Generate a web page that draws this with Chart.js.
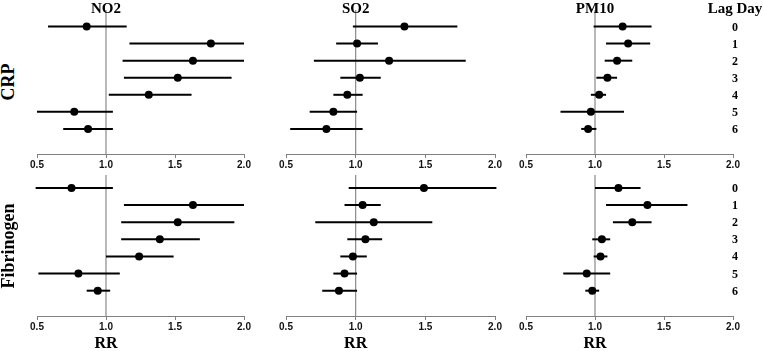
<!DOCTYPE html>
<html>
<head>
<meta charset="utf-8">
<script src="https://cdn.jsdelivr.net/npm/chart.js@4/dist/chart.umd.min.js"></script>
<style>
body{margin:0;background:#fff;width:763px;height:351px;position:relative;overflow:hidden}
.box{position:absolute}
.t{position:absolute;font-family:"Liberation Serif","Times New Roman",serif;font-weight:bold;color:#000;white-space:nowrap;transform:translate(-50%,-50%);line-height:1}
.rot{transform:translate(-50%,-50%) rotate(-90deg)}
</style>
</head>
<body>
<script>
var lags = [0, 1, 2, 3, 4, 5, 6];
var pollutants = ["NO2", "SO2", "PM10"];
var outcomes = ["CRP", "Fibrinogen"];
var xTicks = [0.5, 1.0, 1.5, 2.0];

// CRP
var no2CrpRR = [0.86, 1.76, 1.63, 1.52, 1.31, 0.77, 0.87];
var no2CrpLo = [0.58, 1.17, 1.12, 1.13, 1.02, 0.50, 0.69];
var no2CrpHi = [1.15, 2.00, 2.00, 1.91, 1.62, 1.05, 1.05];

var so2CrpRR = [1.35, 1.01, 1.24, 1.03, 0.94, 0.84, 0.79];
var so2CrpLo = [0.98, 0.86, 0.70, 0.89, 0.84, 0.67, 0.53];
var so2CrpHi = [1.73, 1.16, 1.79, 1.18, 1.05, 1.01, 1.05];

var pm10CrpRR = [1.20, 1.24, 1.16, 1.09, 1.03, 0.97, 0.95];
var pm10CrpLo = [0.99, 1.08, 1.07, 1.01, 0.97, 0.75, 0.90];
var pm10CrpHi = [1.41, 1.40, 1.27, 1.16, 1.08, 1.21, 1.01];

// Fibrinogen
var no2FibRR = [0.75, 1.63, 1.52, 1.39, 1.24, 0.80, 0.94];
var no2FibLo = [0.49, 1.13, 1.11, 1.11, 1.00, 0.51, 0.86];
var no2FibHi = [1.05, 2.00, 1.93, 1.68, 1.49, 1.10, 1.03];

var so2FibRR = [1.49, 1.05, 1.13, 1.07, 0.98, 0.92, 0.88];
var so2FibLo = [0.95, 0.92, 0.71, 0.94, 0.89, 0.84, 0.76];
var so2FibHi = [2.01, 1.18, 1.55, 1.19, 1.08, 1.01, 1.01];

var pm10FibRR = [1.17, 1.38, 1.27, 1.05, 1.04, 0.94, 0.98];
var pm10FibLo = [1.00, 1.08, 1.13, 0.98, 0.99, 0.77, 0.93];
var pm10FibHi = [1.33, 1.67, 1.41, 1.11, 1.09, 1.11, 1.03];

var PAD = 14;
var cols = [{left: 37, width: 207}, {left: 286, width: 209}, {left: 526, width: 207}];
var rows = [{top: 0, height: 172, padTop: 10, ymin: -0.97, ymax: 7.47},
            {top: 170, height: 164, padTop: 5, ymin: -0.76, ymax: 7.48}];

var panels = [
    [[no2CrpRR, no2CrpLo, no2CrpHi], [so2CrpRR, so2CrpLo, so2CrpHi], [pm10CrpRR, pm10CrpLo, pm10CrpHi]],
    [[no2FibRR, no2FibLo, no2FibHi], [so2FibRR, so2FibLo, so2FibHi], [pm10FibRR, pm10FibLo, pm10FibHi]]
];

function addText(txt, x, y, size, cls) {
    var d = document.createElement("div");
    d.className = "t" + (cls ? " " + cls : "");
    d.style.left = x + "px";
    d.style.top = y + "px";
    d.style.fontSize = size + "px";
    d.textContent = txt;
    document.body.appendChild(d);
}

function makeChart(r, c) {
    var row = rows[r], col = cols[c];
    var rr = panels[r][c][0], lo = panels[r][c][1], hi = panels[r][c][2];
    var box = document.createElement("div");
    box.className = "box";
    var w = col.width + 2 * PAD;
    box.style.left = (col.left - PAD) + "px";
    box.style.top = row.top + "px";
    box.style.width = w + "px";
    box.style.height = row.height + "px";
    var canvas = document.createElement("canvas");
    canvas.width = w;
    canvas.height = row.height;
    box.appendChild(canvas);
    document.body.appendChild(box);

    var datasets = [];
    // reference line at RR = 1
    datasets.push({
        data: [{x: 1, y: row.ymin}, {x: 1, y: row.ymax}],
        showLine: true, borderColor: "#8a8a8a", borderWidth: 1.2,
        pointRadius: 0, order: 3
    });
    for (var i = 0; i < lags.length; i++) {
        datasets.push({
            data: [{x: lo[i], y: lags[i]}, {x: hi[i], y: lags[i]}],
            showLine: true, borderColor: "#000", borderWidth: 2,
            pointRadius: 0, clip: false, order: 2
        });
    }
    datasets.push({
        data: rr.map(function(v, i) { return {x: v, y: lags[i]}; }),
        pointRadius: 4, backgroundColor: "#000", borderWidth: 0,
        pointHoverRadius: 4, clip: false, order: 1
    });

    var chart = new Chart(canvas, {
        type: "scatter",
        data: {datasets: datasets},
        options: {
            responsive: false,
            animation: false,
            devicePixelRatio: 1,
            layout: {padding: {left: PAD, right: PAD, top: row.padTop, bottom: 0}},
            plugins: {legend: {display: false}, tooltip: {enabled: false}},
            events: [],
            scales: {
                x: {
                    type: "linear", min: 0.5, max: 2.0,
                    afterBuildTicks: function(s) { s.ticks = xTicks.map(function(v) { return {value: v}; }); },
                    ticks: {
                        padding: 1, color: "#111", maxRotation: 0, autoSkip: false,
                        font: {family: "'Liberation Sans', Arial, sans-serif", size: 10, weight: "bold"},
                        callback: function(v) { return Number(v).toFixed(1); }
                    },
                    grid: {drawOnChartArea: false, drawTicks: true, tickLength: 4, color: "#808080"},
                    border: {display: true, color: "#808080", width: 1}
                },
                y: {type: "linear", display: false, reverse: true, min: row.ymin, max: row.ymax}
            }
        }
    });

    var oneX = col.left - PAD + chart.scales.x.getPixelForValue(1);
    if (r === 0) addText(pollutants[c], oneX, 8, 15);
    if (r === 1) addText("RR", oneX, 343, 16);
    if (c === 2) {
        for (var k = 0; k < lags.length; k++) {
            addText(String(lags[k]), 735, row.top + chart.scales.y.getPixelForValue(lags[k]), 12);
        }
    }
    if (c === 0) {
        var midY = row.top + (chart.chartArea.top + chart.chartArea.bottom) / 2;
        addText(outcomes[r], 8, midY, 18, "rot");
    }
    return chart;
}

for (var r = 0; r < 2; r++) {
    for (var c = 0; c < 3; c++) {
        makeChart(r, c);
    }
}
addText("Lag Day", 735, 8, 15);
</script>
</body>
</html>
